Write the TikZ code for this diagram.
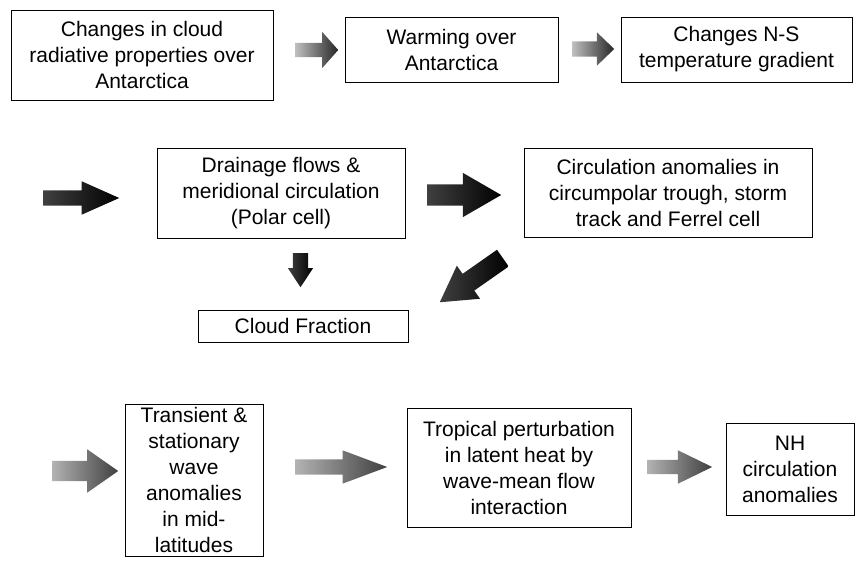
\documentclass[tikz,border=0pt]{standalone}
\usepackage{fontspec}
\setmainfont{Liberation Sans}
\usetikzlibrary{shapes.arrows}

\tikzset{
  box/.style={draw, line width=0.9pt, align=center, inner sep=0pt,
    font=\fontsize{21}{26}\selectfont},
  fatarrow/.style={single arrow, draw=none, inner xsep=0pt, anchor=tail, shape border uses incircle=false},
  shaftw/.style={inner ysep=#1/2},
  lightarrow/.style={fatarrow, left color=gray!50, right color=black!85},
  darkarrow/.style={fatarrow, left color=black!75, right color=black},
  midarrow/.style={fatarrow, left color=gray!60, right color=black!75}
}

\begin{document}
\begin{tikzpicture}[x=1pt, y=-1pt]
    \useasboundingbox (0,0) rectangle (855,561);
    % top row
    \node[box, minimum width=262, minimum height=90] (cloudrad) at (142,55) {Changes in cloud\\radiative properties over\\Antarctica};
    \node[box, minimum width=213, minimum height=65] (warming) at (451.5,49.5) {Warming over\\Antarctica};
    \node[box, minimum width=231, minimum height=65] (gradient) at (736.5,49.5) {Changes N-S\\temperature gradient};
    \node[lightarrow, shaftw=14, minimum height=43, single arrow head extend=11, single arrow tip angle=97] (arrA) at (295,50) {};
    \node[lightarrow, shaftw=15, minimum height=42, single arrow head extend=9, single arrow tip angle=88] (arrB) at (572,49) {};
    % middle row
    \node[box, minimum width=248, minimum height=90] (drainage) at (281,193) {Drainage flows \&\\meridional circulation\\(Polar cell)};
    \node[box, minimum width=288, minimum height=89] (circanom) at (668,192.5) {Circulation anomalies in\\circumpolar trough, storm\\track and Ferrel cell};
    \node[box, minimum width=210, minimum height=32] (cloudfrac) at (303,326) {Cloud Fraction};
    \node[darkarrow, shaftw=15, minimum height=76, single arrow head extend=9, single arrow tip angle=48] (arrC) at (43,198) {};
    \node[darkarrow, shaftw=21, minimum height=74, single arrow head extend=11.5, single arrow tip angle=60] (arrD) at (427,195) {};
    \node[darkarrow, shaftw=15, minimum height=34, single arrow head extend=5, single arrow tip angle=67, rotate=-90] (arrE) at (300.5,253) {};
    \node[darkarrow, shaftw=20, minimum height=77, single arrow head extend=10, single arrow tip angle=60, rotate=215] (arrF) at (503,258) {};
    % bottom row
    \node[box, minimum width=138, minimum height=152] (transient) at (194,480) {Transient \&\\stationary\\wave\\anomalies\\in mid-\\latitudes};
    \node[box, minimum width=224, minimum height=119] (tropical) at (519,467.5) {Tropical perturbation\\in latent heat by\\wave-mean flow\\interaction};
    \node[box, minimum width=128, minimum height=92] (nhcirc) at (790,469) {NH\\circulation\\anomalies};
    \node[midarrow, shaftw=20, minimum height=66, single arrow head extend=11.5, single arrow tip angle=70] (arrG) at (52,471) {};
    \node[midarrow, shaftw=15, minimum height=92, single arrow head extend=9, single arrow tip angle=41] (arrH) at (295,467) {};
    \node[midarrow, shaftw=14, minimum height=65, single arrow head extend=9.5, single arrow tip angle=52] (arrI) at (647,467) {};
\end{tikzpicture}
\end{document}
